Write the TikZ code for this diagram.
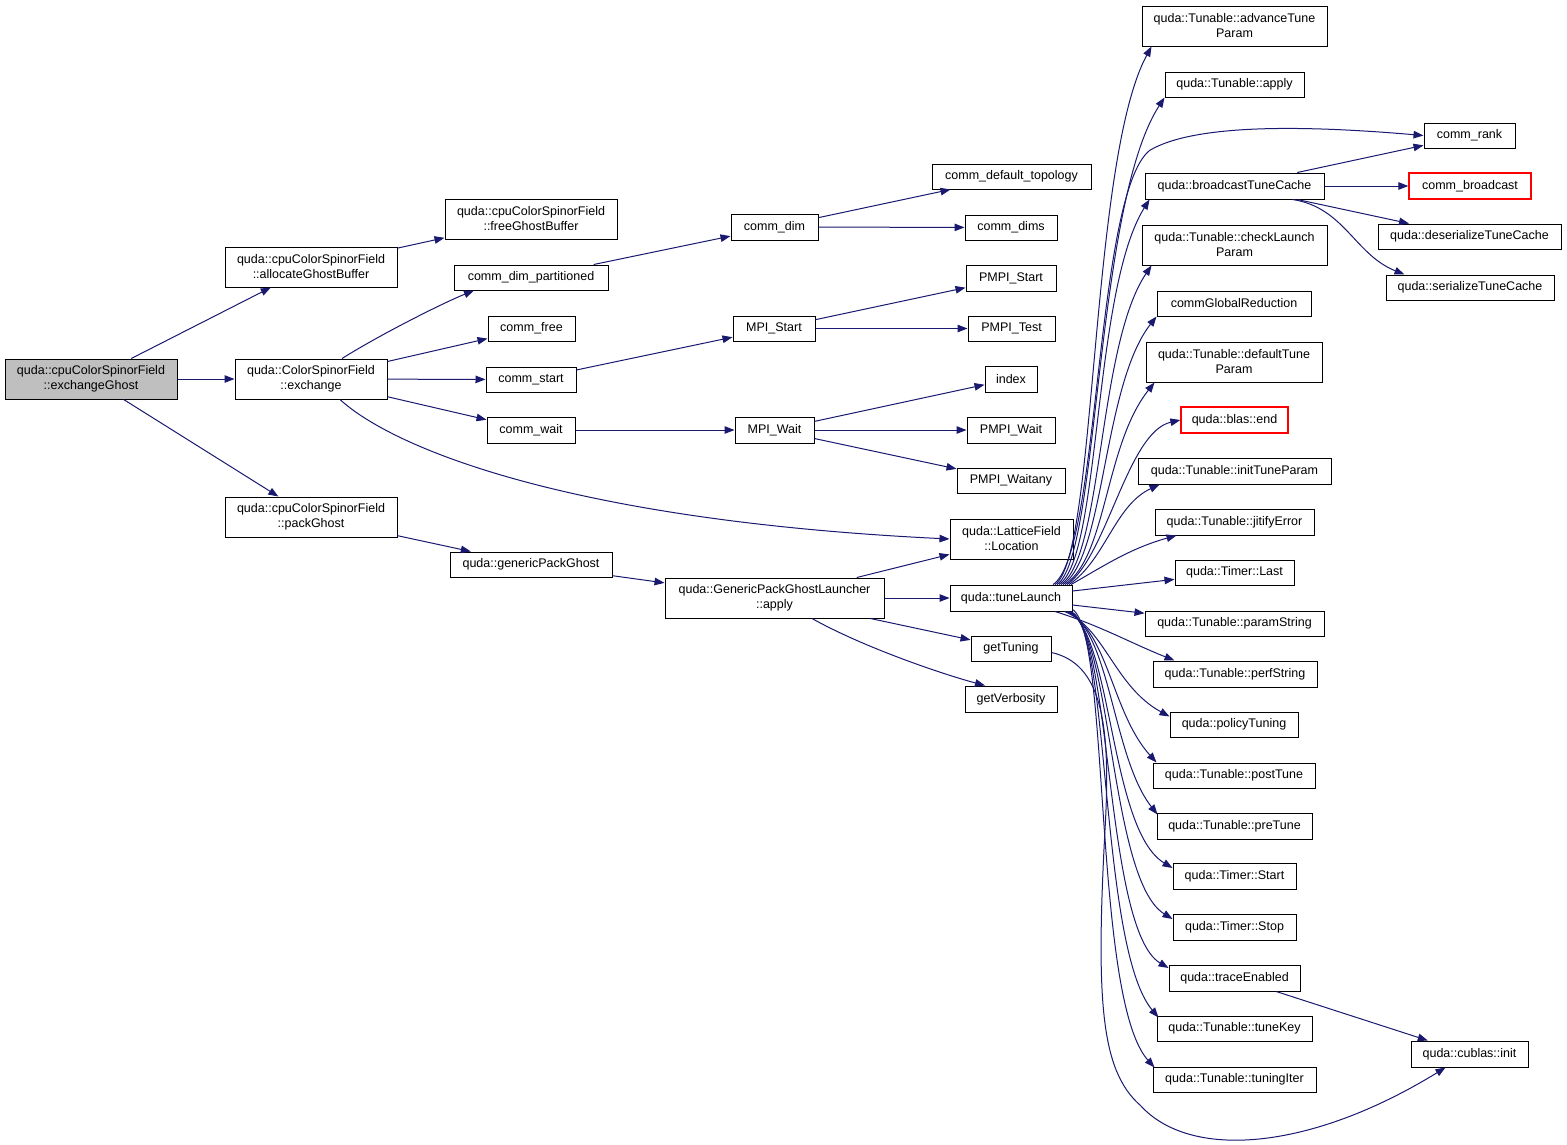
\documentclass[tikz,border=0pt]{standalone}
\usepackage{fontspec}
\setmainfont{Liberation Sans}
\usetikzlibrary{arrows.meta,calc}
\definecolor{edgec}{HTML}{191970}
\definecolor{grayfill}{HTML}{BFBFBF}
\definecolor{redline}{HTML}{FF0000}
\begin{document}
\begin{tikzpicture}[x=1pt,y=-1pt,
  box/.style={draw=black,line width=1pt,inner sep=0pt,align=center,fill=white,
     font=\fontsize{12.5}{15}\selectfont},
  rbox/.style={box,draw=redline,line width=1.3pt},
  edge/.style={draw=edgec,line width=1pt,-{Triangle[length=10pt,width=7.5pt]}}]
\fill[white] (0,0) rectangle (1567,1144);
\useasboundingbox (0,0) rectangle (1567,1144);
% column 1-2
\node[box,fill=grayfill,minimum width=172,minimum height=40] (eg) at (91,379) {quda::cpuColorSpinorField\\::exchangeGhost};
\node[box,minimum width=172,minimum height=40] (agb) at (311,267) {quda::cpuColorSpinorField\\::allocateGhostBuffer};
\node[box,minimum width=152,minimum height=40] (ex) at (311,379) {quda::ColorSpinorField\\::exchange};
\node[box,minimum width=172,minimum height=40] (pg) at (311,517) {quda::cpuColorSpinorField\\::packGhost};
% column 3
\node[box,minimum width=172,minimum height=40] (fgb) at (531,219) {quda::cpuColorSpinorField\\::freeGhostBuffer};
\node[box,minimum width=154,minimum height=25] (cdp) at (531,277.5) {comm\_dim\_partitioned};
\node[box,minimum width=87,minimum height=25] (cfree) at (531.5,328.5) {comm\_free};
\node[box,minimum width=90,minimum height=25] (cstart) at (531,379.5) {comm\_start};
\node[box,minimum width=88,minimum height=26] (cwait) at (531,430) {comm\_wait};
\node[box,minimum width=162,minimum height=25] (gpg) at (531,564.5) {quda::genericPackGhost};
% column 4
\node[box,minimum width=87,minimum height=26] (cdim) at (774.5,227) {comm\_dim};
\node[box,minimum width=82,minimum height=25] (mpistart) at (774,328.5) {MPI\_Start};
\node[box,minimum width=79,minimum height=26] (mpiwait) at (774.5,430) {MPI\_Wait};
\node[box,minimum width=219,minimum height=40] (gpgl) at (774.5,598) {quda::GenericPackGhostLauncher\\::apply};
% column 5
\node[box,minimum width=159,minimum height=25] (cdt) at (1011.5,176.5) {comm\_default\_topology};
\node[box,minimum width=92,minimum height=25] (cdims) at (1011,227.5) {comm\_dims};
\node[box,minimum width=90,minimum height=26] (pmpistart) at (1011,278) {PMPI\_Start};
\node[box,minimum width=87,minimum height=25] (pmpitest) at (1011.5,328.5) {PMPI\_Test};
\node[box,minimum width=52,minimum height=26] (index) at (1011,379) {index};
\node[box,minimum width=88,minimum height=26] (pmpiwait) at (1011,430) {PMPI\_Wait};
\node[box,minimum width=108,minimum height=25] (pmpiwaitany) at (1011,480.5) {PMPI\_Waitany};
\node[box,minimum width=123,minimum height=40] (loc) at (1011.5,539) {quda::LatticeField\\::Location};
\node[box,minimum width=122,minimum height=26] (tl) at (1011,598) {quda::tuneLaunch};
\node[box,minimum width=80,minimum height=25] (gt) at (1011,648.5) {getTuning};
\node[box,minimum width=92,minimum height=26] (gv) at (1011,699) {getVerbosity};
% column 6
\node[box,minimum width=185,minimum height=40] (atp) at (1234.5,26) {quda::Tunable::advanceTune\\Param};
\node[box,minimum width=139,minimum height=25] (tapply) at (1234.5,84.5) {quda::Tunable::apply};
\node[box,minimum width=179,minimum height=26] (btc) at (1234.5,186) {quda::broadcastTuneCache};
\node[box,minimum width=185,minimum height=40] (clp) at (1234.5,245) {quda::Tunable::checkLaunch\\Param};
\node[box,minimum width=154,minimum height=25] (cgr) at (1234,303.5) {commGlobalReduction};
\node[box,minimum width=176,minimum height=40] (dtp) at (1234,362) {quda::Tunable::defaultTune\\Param};
\node[rbox,minimum width=107,minimum height=26] (bend) at (1234.5,420) {quda::blas::end};
\node[box,minimum width=193,minimum height=26] (itp) at (1234.5,471) {quda::Tunable::initTuneParam};
\node[box,minimum width=159,minimum height=26] (jit) at (1234.5,522) {quda::Tunable::jitifyError};
\node[box,minimum width=119,minimum height=25] (last) at (1234.5,572.5) {quda::Timer::Last};
\node[box,minimum width=179,minimum height=25] (ps) at (1234.5,623.5) {quda::Tunable::paramString};
\node[box,minimum width=164,minimum height=26] (pfs) at (1235,674) {quda::Tunable::perfString};
\node[box,minimum width=128,minimum height=25] (pol) at (1234,724.5) {quda::policyTuning};
\node[box,minimum width=162,minimum height=25] (post) at (1234,775.5) {quda::Tunable::postTune};
\node[box,minimum width=155,minimum height=26] (pre) at (1234.5,826) {quda::Tunable::preTune};
\node[box,minimum width=123,minimum height=26] (tstart) at (1234.5,876) {quda::Timer::Start};
\node[box,minimum width=123,minimum height=26] (tstop) at (1234.5,927) {quda::Timer::Stop};
\node[box,minimum width=131,minimum height=26] (trace) at (1234.5,978) {quda::traceEnabled};
\node[box,minimum width=155,minimum height=25] (tk) at (1234.5,1028.5) {quda::Tunable::tuneKey};
\node[box,minimum width=163,minimum height=25] (ti) at (1234.5,1079.5) {quda::Tunable::tuningIter};
% column 7
\node[box,minimum width=91,minimum height=25] (crank) at (1469.5,135.5) {comm\_rank};
\node[rbox,minimum width=122,minimum height=26] (cbc) at (1470,186) {comm\_broadcast};
\node[box,minimum width=183,minimum height=25] (dtc) at (1469.5,236.5) {quda::deserializeTuneCache};
\node[box,minimum width=168,minimum height=25] (stc) at (1470,287.5) {quda::serializeTuneCache};
\node[box,minimum width=117,minimum height=26] (cinit) at (1469.5,1054) {quda::cublas::init};

% straight edges
\draw[edge] (eg) -- (agb);
\draw[edge] (eg) -- (ex);
\draw[edge] (eg) -- (pg);
\draw[edge] (agb) -- (fgb);
\draw[edge] (ex) -- (cfree);
\draw[edge] (ex) -- (cstart);
\draw[edge] (ex) -- (cwait);
\draw[edge] (pg) -- (gpg);
\draw[edge] (gpg) -- (gpgl);
\draw[edge] (cdp) -- (cdim);
\draw[edge] (cstart) -- (mpistart);
\draw[edge] (cwait) -- (mpiwait);
\draw[edge] (cdim) -- (cdt);
\draw[edge] (cdim) -- (cdims);
\draw[edge] (mpistart) -- (pmpistart);
\draw[edge] (mpistart) -- (pmpitest);
\draw[edge] (mpiwait) -- (index);
\draw[edge] (mpiwait) -- (pmpiwait);
\draw[edge] (mpiwait) -- (pmpiwaitany);
\draw[edge] (gpgl) -- (loc);
\draw[edge] (gpgl) -- (tl);
\draw[edge] (gpgl) -- (gt);
\draw[edge] (btc) -- (crank);
\draw[edge] (btc) -- (cbc);
\draw[edge] (btc) -- (dtc);
\draw[edge] (tl) -- (last);
\draw[edge] (tl) -- (ps);
\draw[edge] (trace) -- (cinit);

% curved edges
\draw[edge] ($(ex.north)+(31,0)$) .. controls ($(ex.north)+(71,-25)$) and ($(cdp.south)+(-87,12)$) .. ($(cdp.south)+(-57,0)$);
\draw[edge] ($(ex.south)+(29,0)$) .. controls ($(ex.south)+(79,46)$) and ($(loc.west)+(-390,-19)$) .. (loc.west);
\draw[edge] ($(gpgl.south)+(37.5,0)$) .. controls ($(gpgl.south)+(87.5,28)$) and ($(gv.north)+(-71,-12)$) .. ($(gv.north)+(-26,0)$);
\draw[edge] ($(btc.south)+(58,0)$) .. controls ($(btc.south)+(110,8)$) and ($(stc.north west)+(-31,-20)$) .. ($(stc.north west)+(19,0)$);

% tuneLaunch -> comm_rank
\draw[edge] ($(tl.north)+(42,0)$) .. controls ($(tl.north)+(89,-30)$) and ($(crank.west)+(-329,60)$) .. ($(crank.west)+(-274,15)$)
   .. controls ($(crank.west)+(-224,-15)$) and ($(crank.west)+(-94,-8)$) .. (crank.west);

% tuneLaunch upper fan
\draw[edge] ($(tl.north)+(44,0)$) .. controls ($(tl.north)+(86,-28)$) and ($(atp.south west)+(-52,114)$) .. ($(atp.south west)+(10,0)$);
\draw[edge] ($(tl.north)+(46,0)$) .. controls ($(tl.north)+(88,-28)$) and ($(tapply.south west)+(-70,108)$) .. (tapply.south west);
\draw[edge] ($(tl.north)+(48,0)$) .. controls ($(tl.north)+(90,-28)$) and ($(btc.south west)+(-52,91)$) .. ($(btc.south west)+(5,0)$);
\draw[edge] ($(tl.north)+(50,0)$) .. controls ($(tl.north)+(92,-28)$) and ($(clp.south west)+(-44,80)$) .. ($(clp.south west)+(10,0)$);
\draw[edge] ($(tl.north)+(52,0)$) .. controls ($(tl.north)+(94,-28)$) and ($(cgr.south west)+(-54,69)$) .. (cgr.south west);
\draw[edge] ($(tl.north)+(54,0)$) .. controls ($(tl.north)+(96,-28)$) and ($(dtp.south west)+(-41,63)$) .. ($(dtp.south west)+(9,0)$);
\draw[edge] ($(tl.north)+(56,0)$) .. controls ($(tl.north)+(96,-28)$) and ($(bend.west)+(-53,12)$) .. (bend.west);
\draw[edge] ($(tl.north)+(58,0)$) .. controls ($(tl.north)+(94,-24)$) and ($(itp.south west)+(-23,21)$) .. ($(itp.south west)+(22,0)$);
\draw[edge] ($(tl.north)+(60,0)$) .. controls ($(tl.north)+(92,-18)$) and ($(jit.south west)+(-25,13)$) .. ($(jit.south west)+(22,0)$);

% tuneLaunch lower fan
\draw[edge] ($(tl.south)+(44,0)$) .. controls ($(tl.south)+(89,14)$) and ($(pfs.north west)+(-23,-18)$) .. ($(pfs.north west)+(22,0)$);
\draw[edge] ($(tl.south east)+(-8,0)$) .. controls ($(tl.south east)+(32,16)$) and ($(pol.west)+(-55,-38)$) .. ($(pol.west)+(0,-8)$);
\draw[edge] ($(tl.south east)+(-6,0)$) .. controls ($(tl.south east)+(36,20)$) and ($(post.north west)+(-41,-50)$) .. ($(post.north west)+(4,0)$);
\draw[edge] ($(tl.south east)+(-5,0)$) .. controls ($(tl.south east)+(38,20)$) and ($(pre.north west)+(-44,-55)$) .. ($(pre.north west)+(1,2)$);
\draw[edge] ($(tl.south east)+(-4,0)$) .. controls ($(tl.south east)+(40,22)$) and ($(tstart.west)+(-63,-46)$) .. ($(tstart.west)+(0,-8)$);
\draw[edge] ($(tl.south east)+(-3,0)$) .. controls ($(tl.south east)+(40,22)$) and ($(tstop.west)+(-63,-47)$) .. ($(tstop.west)+(0,-8)$);
\draw[edge] ($(tl.south east)+(-2,0)$) .. controls ($(tl.south east)+(40,22)$) and ($(trace.west)+(-64,-48)$) .. ($(trace.west)+(0,-10)$);
\draw[edge] ($(tl.south east)+(-1,0)$) .. controls ($(tl.south east)+(38,22)$) and ($(tk.north west)+(-57,-68)$) .. ($(tk.north west)+(2,2)$);
\draw[edge] ($(tl.south east)+(0,-2)$) .. controls ($(tl.south east)+(38,22)$) and ($(ti.north west)+(-60,-68)$) .. ($(ti.north west)+(2,1)$);

% getTuning -> cublas::init
\draw[edge] ($(gt.east)+(0,4)$) .. controls ($(gt.east)+(49,15)$) and ($(cinit.south)+(-359,-347)$) .. ($(cinit.south)+(-364,-247)$)
   .. controls ($(cinit.south)+(-374,-67)$) and ($(cinit.south)+(-369,3)$) .. ($(cinit.south)+(-329,38)$)
   .. controls ($(cinit.south)+(-279,93)$) and ($(cinit.south)+(-159,83)$) .. ($(cinit.south)+(-24,0)$);
\end{tikzpicture}
\end{document}
